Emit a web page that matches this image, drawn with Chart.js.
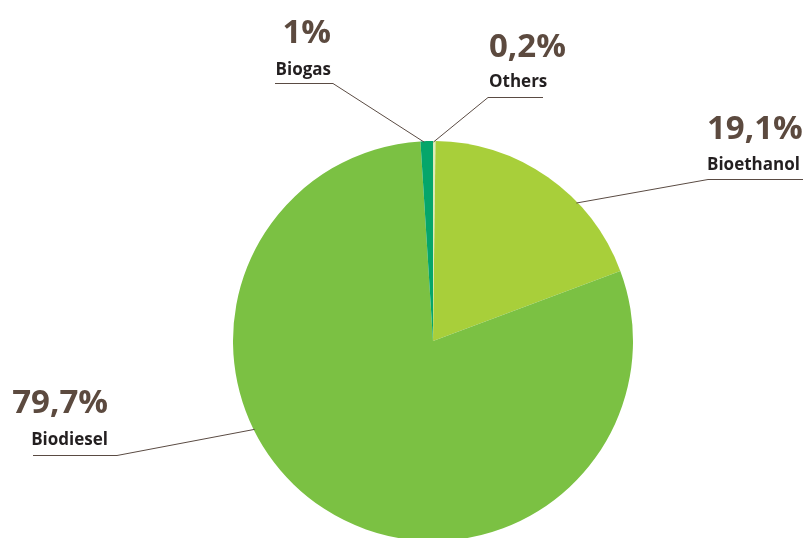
<!DOCTYPE html>
<html>
<head>
<meta charset="utf-8">
<script src="https://cdn.jsdelivr.net/npm/chart.js@4.4.1/dist/chart.umd.min.js"></script>
<style>
  html, body { margin: 0; padding: 0; background: #fff; overflow: hidden; }
  #wrap { width: 806px; height: 560px; }
</style>
</head>
<body>
<div id="wrap"><canvas id="pie" width="806" height="560"></canvas></div>
<script>
const categories = ["Others", "Bioethanol", "Biodiesel", "Biogas"];
const shares = [0.2, 19.1, 79.7, 1];
const sliceColors = ["#dfeab8", "#a8cf3a", "#7bc143", "#05a66a"];

// where each label sits and where its leader line meets the slice edge
const labelLayout = [
  { align: "left",  x: 489, pctY: 57,  nameY: 87,  lineY: 97,  x0: 488, x1: 543, elbow: 488, frac: 0.2 },
  { align: "left",  x: 707, pctY: 139, nameY: 170, lineY: 179, x0: 708, x1: 803, elbow: 708, frac: 0.66 },
  { align: "right", x: 108, pctY: 413, nameY: 445, lineY: 455, x0: 33,  x1: 117, elbow: 117, frac: 0.607 },
  { align: "right", x: 331, pctY: 43,  nameY: 75,  lineY: 83,  x0: 275, x1: 333, elbow: 333, frac: 0.3 }
];

const fmt = (v) => String(v).replace(".", ",") + "%";

const leaderLabels = {
  id: "leaderLabels",
  afterDraw(chart) {
    const c = chart.ctx;
    const arcs = chart.getDatasetMeta(0).data;
    c.save();
    arcs.forEach((arc, i) => {
      const lay = labelLayout[i];
      const a = arc.startAngle + lay.frac * (arc.endAngle - arc.startAngle);
      const r = arc.outerRadius - 1;
      const ax = arc.x + Math.cos(a) * r;
      const ay = arc.y + Math.sin(a) * r;

      c.strokeStyle = "#5a4b43";
      c.lineWidth = 1;
      c.beginPath();
      c.moveTo(lay.x0, lay.lineY + 0.5);
      c.lineTo(lay.x1, lay.lineY + 0.5);
      c.moveTo(lay.elbow, lay.lineY + 0.5);
      c.lineTo(ax, ay);
      c.stroke();

      c.textAlign = lay.align;
      c.textBaseline = "alphabetic";
      c.fillStyle = "#5c4a3f";
      c.font = "bold 33px 'Open Sans'";
      c.fillText(fmt(shares[i]), lay.x, lay.pctY);
      c.fillStyle = "#231f20";
      c.font = "bold 17px 'Open Sans'";
      c.fillText(categories[i], lay.x, lay.nameY);
    });
    c.restore();
  }
};

new Chart(document.getElementById("pie").getContext("2d"), {
  type: "pie",
  data: {
    labels: categories,
    datasets: [{
      data: shares,
      backgroundColor: sliceColors,
      borderWidth: 0
    }]
  },
  options: {
    responsive: false,
    animation: false,
    layout: { padding: { top: 141, bottom: 19, left: 233, right: 173 } },
    plugins: {
      legend: { display: false },
      tooltip: { enabled: false }
    }
  },
  plugins: [leaderLabels]
});
</script>
</body>
</html>
